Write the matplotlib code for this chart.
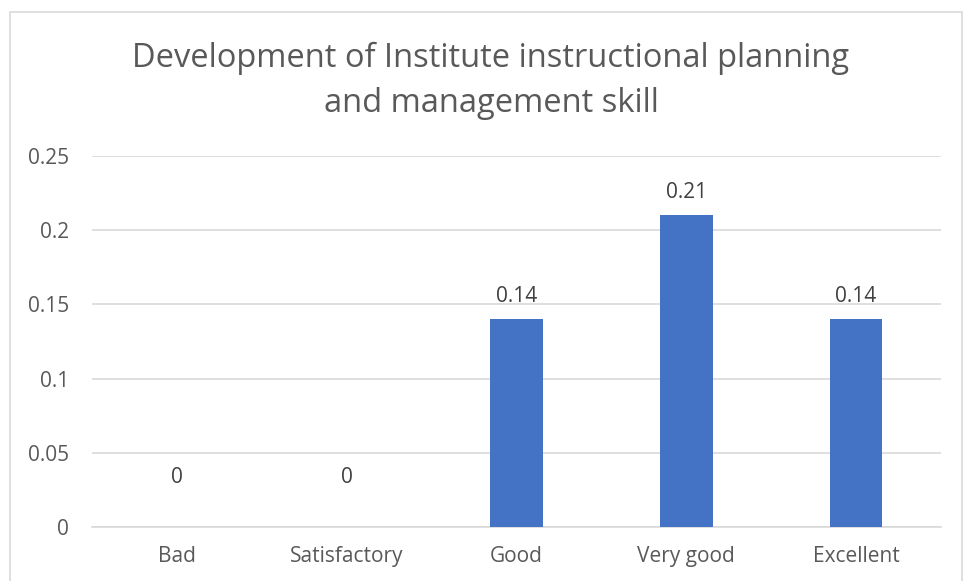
import matplotlib.pyplot as plt
from matplotlib.patches import Rectangle

categories = ['Bad', 'Satisfactory', 'Good', 'Very good', 'Excellent']
values = [0, 0, 0.14, 0.21, 0.14]
labels = ['0', '0', '0.14', '0.21', '0.14']

plt.rcParams['font.family'] = ['Open Sans', 'DejaVu Sans']
txt = '#595959'

fig = plt.figure(figsize=(9.63, 5.81), dpi=100)
# light chart border
fig.patches.append(Rectangle((10 / 963, -0.05), 951.5 / 963, 1.05 - 12 / 581,
                             transform=fig.transFigure, fill=False,
                             edgecolor='#D9D9D9', linewidth=1.2))

ax = fig.add_axes([92 / 963, 1 - 527 / 581, 849 / 963, 371 / 581])
bars = ax.bar(range(len(categories)), values, width=0.31, color='#4472C4', zorder=3)
for b, lab in zip(bars, labels):
    # zero bars get their label lifted a bit more, like excel does
    off = 0.0085 if b.get_height() > 0 else 0.0265
    ax.text(b.get_x() + b.get_width() / 2, b.get_height() + off, lab,
            ha='center', va='bottom', fontsize=15, color='#404040')

ax.set_xlim(-0.5, 4.5)
ax.set_ylim(0, 0.25)
ax.set_yticks([0, 0.05, 0.1, 0.15, 0.2, 0.25])
ax.set_yticklabels(['0', '0.05', '0.1', '0.15', '0.2', '0.25'])
ax.set_xticks(range(len(categories)))
ax.set_xticklabels(categories)
ax.tick_params(axis='both', length=0, labelsize=15, labelcolor=txt)
ax.tick_params(axis='y', pad=16.5)
ax.tick_params(axis='x', pad=14)
ax.grid(axis='y', color='#D9D9D9', linewidth=1.2, zorder=0)
for s in ['top', 'right', 'left']:
    ax.spines[s].set_visible(False)
ax.spines['bottom'].set_color('#D9D9D9')
ax.spines['bottom'].set_linewidth(1.2)

fig.text(491 / 963, 1 - 81 / 581,
         'Development of Institute instructional planning\nand management skill',
         ha='center', va='center', fontsize=23.5, color=txt, linespacing=1.45)

fig.savefig('out.png', dpi=100)
